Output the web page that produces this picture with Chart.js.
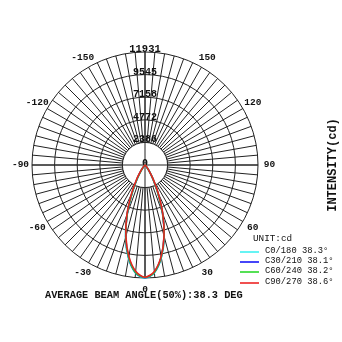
<!DOCTYPE html>
<html><head><meta charset="utf-8">
<script src="https://cdn.jsdelivr.net/npm/chart.js@4.4.1/dist/chart.umd.min.js"></script>
<style>
html,body{margin:0;padding:0;background:#fff;}
#wrap{position:relative;width:342px;height:342px;overflow:hidden;}
canvas{position:absolute;left:0;top:0;}
.t{position:absolute;font-family:"Liberation Mono","Courier New",monospace;color:#111;white-space:nowrap;}
</style></head>
<body><div id="wrap">
<canvas id="c" width="342" height="342"></canvas>
<div class="t" style="left:45px;top:289px;font-size:10.3px;font-weight:bold;">AVERAGE BEAM ANGLE(50%):38.3 DEG</div>
<div class="t" style="left:333px;top:165px;font-size:12px;font-weight:bold;transform:translate(-50%,-50%) rotate(-90deg);">INTENSITY(cd)</div>
<div class="t" style="left:253px;top:233px;font-size:9.3px;">UNIT:cd</div>
<div id="leg"></div>
</div>
<script>
// ---- data ----
const gammaSide = [0,5,10,15,20,25,30,35,40,45,50,55,60,65,70,75,80,85,90];
const tickValues = [0, 2386, 4772, 7158, 9545, 11931];
const tickLabels = ["0", "2386", "4772", "7158", "9545", "11931"];
const angleLabels = [180,175,170,165,160,155,150,145,140,135,130,125,120,115,110,105,100,95,90,85,80,75,70,65,60,55,50,45,40,35,30,25,20,15,10,5,0,-5,-10,-15,-20,-25,-30,-35,-40,-45,-50,-55,-60,-65,-70,-75,-80,-85,-90,-95,-100,-105,-110,-115,-120,-125,-130,-135,-140,-145,-150,-155,-160,-165,-170,-175];
const seriesNames = ["C0/180 38.3°", "C30/210 38.1°", "C60/240 38.2°", "C90/270 38.6°"];
const seriesColors = ["#1ee0e8", "#2b2bf5", "#2fcf2f", "#e52222"];
const legendColors = ["#66f4f4", "#4646f8", "#55e055", "#f05050"];
// intensity (cd) at gamma 0..90 step 5, positive side (right) and negative side (left)
const c0Right   = [11931,11420,9950,7850,5450,3150,1600,700,260,95,25,0,0,0,0,0,0,0,0];
const c0Left    = [11931,11460,10040,7960,5500,3150,1580,690,255,90,24,0,0,0,0,0,0,0,0];
const c30Right  = [11900,11380,9880,7780,5400,3120,1590,700,260,95,25,0,0,0,0,0,0,0,0];
const c30Left   = [11900,11410,9950,7860,5440,3130,1590,700,258,94,24,0,0,0,0,0,0,0,0];
const c60Right  = [11880,11370,9870,7790,5420,3140,1600,705,262,96,25,0,0,0,0,0,0,0,0];
const c60Left   = [11880,11390,9920,7850,5460,3160,1610,710,262,96,25,0,0,0,0,0,0,0,0];
const c90Right  = [11850,11280,9800,7760,5500,3300,1750,780,300,110,30,0,0,0,0,0,0,0,0];
const c90Left   = [11850,11260,9800,7800,5600,3420,1850,830,320,120,32,0,0,0,0,0,0,0,0];
const seriesSides = [[c0Right,c0Left],[c30Right,c30Left],[c60Right,c60Left],[c90Right,c90Left]];

function buildSeries(right, left){
  return angleLabels.map(a => {
    const g = Math.abs(a);
    if (g > 90) return 0;
    const idx = gammaSide.indexOf(g);
    return a >= 0 ? right[idx] : left[idx];
  });
}

const FONT = '"Liberation Mono","Courier New",monospace';

const overlay = {
  id: 'overlay',
  beforeDatasetsDraw(chart){
    const s = chart.scales.r, ctx = chart.ctx;
    const r0 = s.getDistanceFromCenterForValue(tickValues[1]);
    const R = s.getDistanceFromCenterForValue(tickValues[tickValues.length-1]);
    ctx.save();
    ctx.beginPath(); ctx.arc(s.xCenter, s.yCenter, r0, 0, Math.PI*2);
    ctx.fillStyle = '#fff'; ctx.fill();
    ctx.strokeStyle = '#222'; ctx.lineWidth = 1; ctx.stroke();
    ctx.beginPath();
    ctx.moveTo(s.xCenter - R, s.yCenter); ctx.lineTo(s.xCenter + R, s.yCenter);
    ctx.moveTo(s.xCenter, s.yCenter - R); ctx.lineTo(s.xCenter, s.yCenter + R);
    ctx.stroke();
    // tick labels
    ctx.fillStyle = '#111';
    ctx.textAlign = 'center'; ctx.textBaseline = 'middle';
    tickValues.forEach((v, i) => {
      const d = s.getDistanceFromCenterForValue(v);
      ctx.font = 'bold ' + (i === tickValues.length-1 ? '10.5px ' : '10px ') + FONT;
      ctx.fillText(tickLabels[i], s.xCenter, s.yCenter - d - (i === 0 ? 2 : 2.5));
    });
    // angle labels
    ctx.font = 'bold 9.5px ' + FONT;
    angleLabels.forEach((a, i) => {
      if (a % 30 !== 0 || a === 180) return;
      const p = s.getPointPosition(i, R + 11.5);
      ctx.fillText(String(a), p.x, p.y);
    });
    ctx.restore();
  }
};

new Chart(document.getElementById('c'), {
  type: 'radar',
  data: {
    labels: angleLabels,
    datasets: seriesSides.map((sd, k) => ({
      label: seriesNames[k],
      data: buildSeries(sd[0], sd[1]),
      borderColor: seriesColors[k],
      backgroundColor: 'transparent',
      borderWidth: 1.6,
      pointRadius: 0,
      fill: false,
      tension: 0.3,
      order: 3 - k
    }))
  },
  options: {
    responsive: false,
    animation: false,
    layout: { padding: { left: 32, right: 84, top: 52, bottom: 64 } },
    plugins: { legend: { display: false }, tooltip: { enabled: false } },
    scales: {
      r: {
        min: 0, max: tickValues[tickValues.length-1],
        startAngle: 0,
        afterBuildTicks(scale){ scale.ticks = tickValues.map(v => ({ value: v })); },
        ticks: { display: false },
        pointLabels: { display: false },
        grid: { circular: true, color: '#222', lineWidth: 1 },
        angleLines: { display: true, color: '#222', lineWidth: 1 }
      }
    }
  },
  plugins: [overlay]
});

// legend (HTML)
const leg = document.getElementById('leg');
const rowsY = [252, 262, 272, 283];
seriesNames.forEach((n, k) => {
  const line = document.createElement('div');
  line.style.cssText = `position:absolute;left:240px;top:${rowsY[k]-1}px;width:19px;height:1.5px;background:${legendColors[k]};`;
  leg.appendChild(line);
  const t = document.createElement('div');
  t.className = 't';
  t.style.cssText = `left:265px;top:${rowsY[k]-6}px;font-size:8.8px;`;
  t.textContent = n;
  leg.appendChild(t);
});
</script>
</body></html>
